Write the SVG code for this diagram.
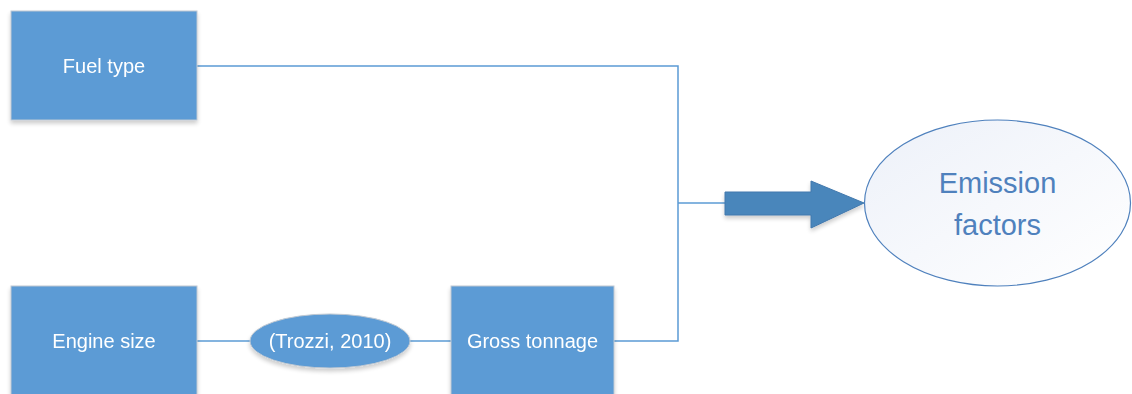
<svg xmlns="http://www.w3.org/2000/svg" width="1132" height="394" viewBox="0 0 1132 394">
  <defs>
    <linearGradient id="egrad" x1="0" y1="0" x2="1" y2="1">
      <stop offset="0" stop-color="#EDF1F9"/>
      <stop offset="1" stop-color="#FFFFFF"/>
    </linearGradient>
    <filter id="shadow" x="-10%" y="-10%" width="120%" height="130%">
      <feGaussianBlur in="SourceAlpha" stdDeviation="2"/>
      <feOffset dx="0" dy="3" result="b"/>
      <feComponentTransfer><feFuncA type="linear" slope="0.2"/></feComponentTransfer>
      <feMerge><feMergeNode/><feMergeNode in="SourceGraphic"/></feMerge>
    </filter>
  </defs>
  <style>
    .box { fill: #5B9BD5; stroke: #BFC8D2; stroke-width: 1; }
    .lbl { font-family: "Liberation Sans", Arial, sans-serif; font-size: 20px; fill: #FFFFFF; text-anchor: middle; }
    .big { font-family: "Liberation Sans", Arial, sans-serif; font-size: 29px; fill: #4F81BD; text-anchor: middle; }
    .conn { fill: none; stroke: #5B9BD5; stroke-width: 1.5; }
  </style>
  <rect width="1132" height="394" fill="#FFFFFF"/>
  <g id="connectors">
    <polyline class="conn" points="197,66 678,66 678,341 614,341"/>
    <line class="conn" x1="678" y1="203" x2="725" y2="203"/>
    <line class="conn" x1="197" y1="341" x2="250" y2="341"/>
    <line class="conn" x1="410" y1="341" x2="451" y2="341"/>
    <polygon points="725,192 811,192 811,181 864,203 811,228 811,215 725,215" fill="#4A86BB" stroke="#4178AD" stroke-width="1" filter="url(#shadow)"/>
  </g>
  <g id="fuel-type" filter="url(#shadow)">
    <rect class="box" x="11" y="11" width="186" height="109"/>
    <text class="lbl" x="104" y="73">Fuel type</text>
  </g>
  <g id="engine-size" filter="url(#shadow)">
    <rect class="box" x="11" y="286" width="186" height="120"/>
    <text class="lbl" x="104" y="348">Engine size</text>
  </g>
  <g id="trozzi" filter="url(#shadow)">
    <ellipse cx="330" cy="341" rx="80" ry="27" fill="#5B9BD5" stroke="#BFC8D2" stroke-width="1"/>
    <text class="lbl" x="330" y="348">(Trozzi, 2010)</text>
  </g>
  <g id="gross-tonnage" filter="url(#shadow)">
    <rect class="box" x="451" y="286" width="163" height="120"/>
    <text class="lbl" x="532.5" y="348">Gross tonnage</text>
  </g>
  <g id="emission-factors">
    <ellipse cx="997.5" cy="203" rx="133" ry="83" fill="url(#egrad)" stroke="#4F81BD" stroke-width="1.2"/>
    <text class="big" x="997.5" y="193">Emission</text>
    <text class="big" x="997.5" y="235">factors</text>
  </g>
</svg>
